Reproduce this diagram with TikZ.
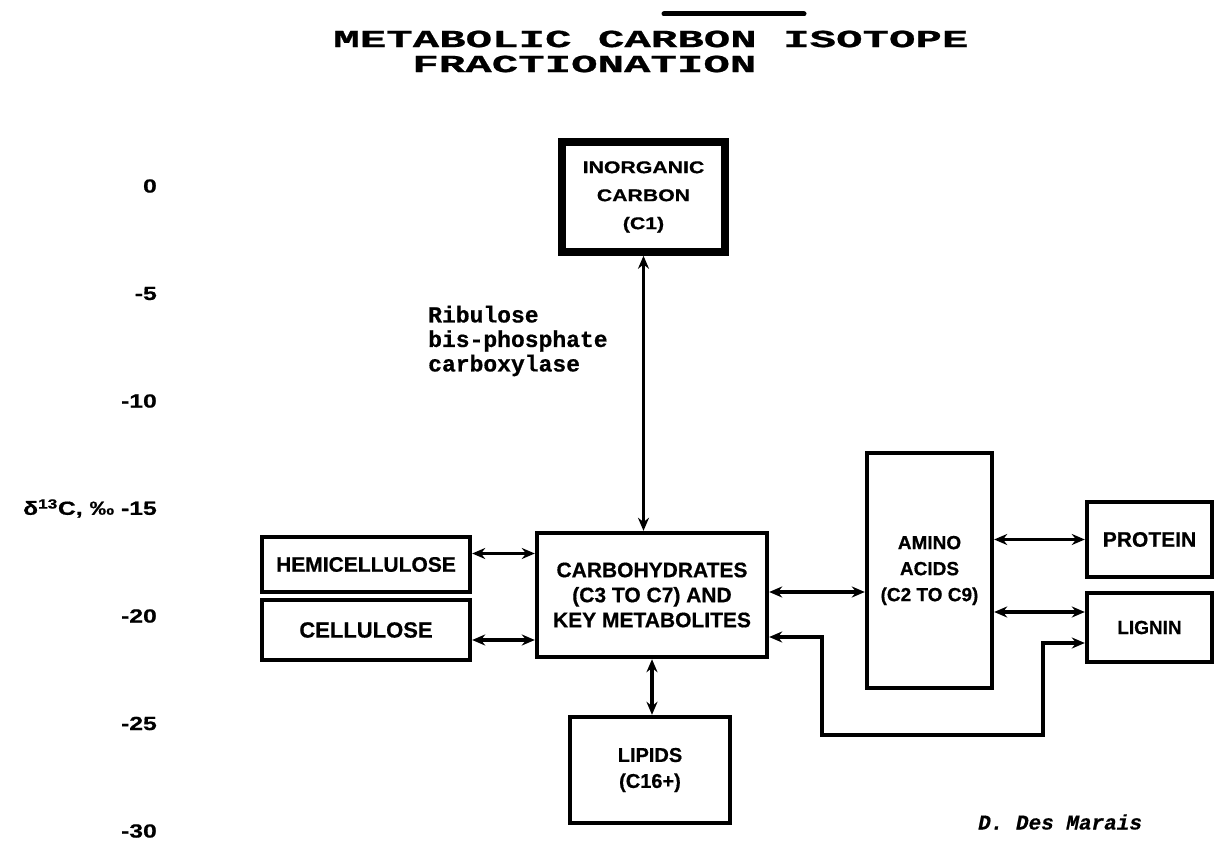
\documentclass[tikz,border=0pt]{standalone}
\usepackage{fontspec}
\usepackage{graphicx}
\setmainfont{Liberation Sans}
\newfontfamily\heavyfont{Liberation Sans Bold}[FakeBold=0.6]
\newfontfamily\monofont{Liberation Mono Bold}[FakeBold=0.6]
\newfontfamily\monoitfont{Liberation Mono Bold Italic}[FakeBold=0.4]
\usetikzlibrary{arrows.meta}
\begin{document}
\begin{tikzpicture}[x=1pt,y=-1pt,
  box/.style={draw, line width=4.4pt, inner sep=0pt, align=center,
    font=\heavyfont\fontsize{21}{25}\selectfont},
  link/.style={line width=3.2pt,
    {Stealth[length=13pt,width=11pt]}-{Stealth[length=13pt,width=11pt]}},
  axislbl/.style={anchor=east, inner sep=0pt, font=\heavyfont\fontsize{19}{20}\selectfont},
  titletxt/.style={anchor=west, inner sep=0pt, xscale=1.8,
    font=\monofont\fontsize{24.5}{25}\selectfont},
  monotxt/.style={inner sep=0pt, align=left,
    font=\monofont\fontsize{23}{24.5}\selectfont}]
\useasboundingbox (0,0) rectangle (1216,845);
\fill[white] (0,0) rectangle (1216,845);

% title
\draw[line width=5pt, line cap=round] (664,14) -- (804,14);
\node[titletxt] (t1) at (333,39) {METABOLIC CARBON ISOTOPE};
\node[titletxt] (t2) at (412,64) {FRACTIONATION};

% axis labels
\node[axislbl] (a0)  at (157,186)   {\scalebox{1.3}[1]{0}};
\node[axislbl] (a5)  at (157,293.5) {\scalebox{1.3}[1]{-5}};
\node[axislbl] (a10) at (157,401)   {\scalebox{1.3}[1]{-10}};
\node[axislbl] (a15) at (157,508.5) {\scalebox{1.3}[1]{δ\textsuperscript{13}C, ‰ -15}};
\node[axislbl] (a20) at (157,616)   {\scalebox{1.3}[1]{-20}};
\node[axislbl] (a25) at (157,723.5) {\scalebox{1.3}[1]{-25}};
\node[axislbl] (a30) at (157,831)   {\scalebox{1.3}[1]{-30}};

% boxes
\node[box, line width=7.5pt, minimum width=163pt, minimum height=110pt,
  font=\heavyfont\fontsize{17}{28}\selectfont] (inorg) at (643.5,197)
  {\scalebox{1.25}[1]{INORGANIC}\\\scalebox{1.25}[1]{CARBON}\\\scalebox{1.25}[1]{(C1)}};
\node[box, minimum width=230pt, minimum height=124pt] (carbs) at (652,595)
  {CARBOHYDRATES\\(C3 TO C7) AND\\KEY METABOLITES};
\node[box, minimum width=208pt, minimum height=55pt] (hemi) at (366,564.5) {HEMICELLULOSE};
\node[box, minimum width=208pt, minimum height=60pt,
  font=\heavyfont\fontsize{22}{25}\selectfont] (cell) at (366,630) {CELLULOSE};
\node[box, minimum width=160pt, minimum height=106pt,
  font=\heavyfont\fontsize{20}{26}\selectfont] (lip) at (650,770) {LIPIDS\\(C16+)};
\node[box, minimum width=125pt, minimum height=235pt,
  font=\heavyfont\fontsize{19}{26}\selectfont] (amino) at (929.5,570.5) {AMINO\\ACIDS\\(C2 TO C9)};
\node[box, minimum width=125pt, minimum height=75pt,
  font=\heavyfont\fontsize{21}{24}\selectfont] (prot) at (1149.5,539.5) {PROTEIN};
\node[box, minimum width=125pt, minimum height=69pt,
  font=\heavyfont\fontsize{19}{24}\selectfont] (lig) at (1149.5,627.5) {LIGNIN};

% enzyme label
\node[monotxt, anchor=west] (rub) at (428,341) {Ribulose\\bis-phosphate\\carboxylase};

% author
\node[inner sep=0pt, anchor=west, font=\monoitfont\fontsize{21}{24}\selectfont]
  (auth) at (978,822) {D. Des Marais};

% connectors
\coordinate (lp1) at (1043,735);
\coordinate (lp2) at (822,735);
\draw[link] (inorg.south) -- (inorg.south |- carbs.north);
\draw[link] ([yshift=11pt]hemi.east) -- ([yshift=11pt]hemi.east -| carbs.west);
\draw[link] ([yshift=-10pt]cell.east) -- ([yshift=-10pt]cell.east -| carbs.west);
\draw[link] (carbs.south) -- (carbs.south |- lip.north);
\draw[link] ([yshift=3pt]carbs.east) -- ([yshift=3pt]carbs.east -| amino.west);
\draw[link] (prot.west -| amino.east) -- (prot.west);
\draw[link] ([yshift=15.5pt]lig.west -| amino.east) -- ([yshift=15.5pt]lig.west);
\draw[link] ([yshift=-15.5pt]lig.west) -| (lp1) -- (lp2) |- ([yshift=-42pt]carbs.east);
\end{tikzpicture}
\end{document}
